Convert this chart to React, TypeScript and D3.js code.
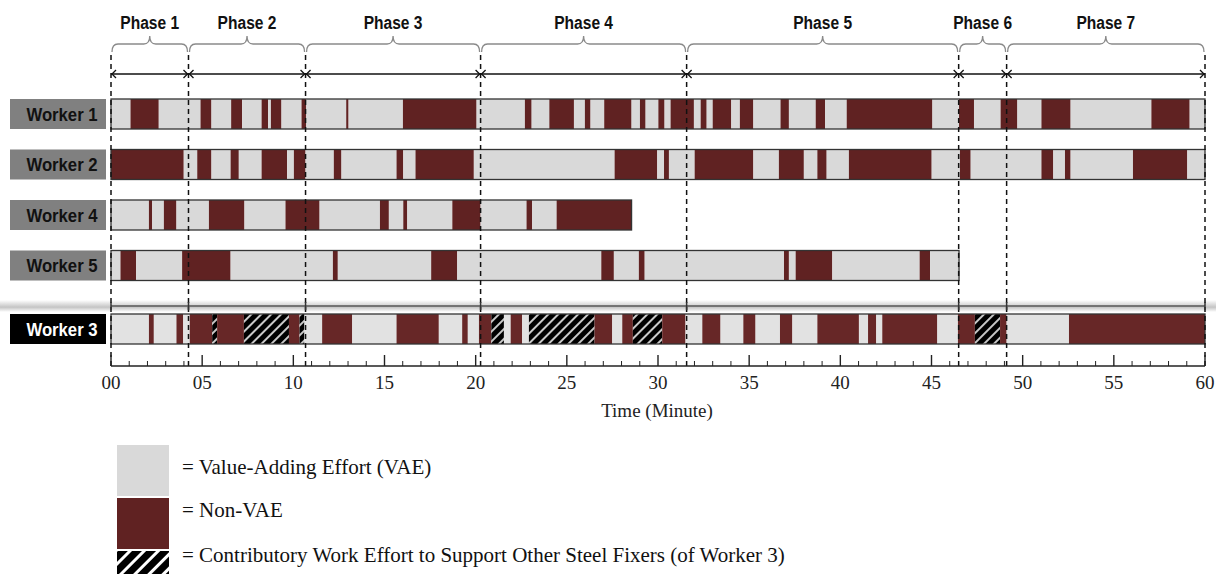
import React from "react";
import * as d3 from "d3";

type Kind = "V" | "N" | "H";
type Seg = [number, number, Kind];

const phaseNames = ["Phase 1", "Phase 2", "Phase 3", "Phase 4", "Phase 5", "Phase 6", "Phase 7"];
const phaseBounds = [0, 4.25, 10.67, 20.27, 31.57, 46.49, 49.12, 60];

const workerNames = ["Worker 1", "Worker 2", "Worker 4", "Worker 5", "Worker 3"];

const worker1: Seg[] = [
  [0, 1.07, "V"], [1.07, 2.62, "N"], [2.62, 4.91, "V"], [4.91, 5.51, "N"], [5.51, 6.59, "V"],
  [6.59, 7.19, "N"], [7.19, 8.26, "V"], [8.26, 8.62, "N"], [8.62, 8.77, "V"], [8.77, 9.35, "N"],
  [9.35, 10.45, "V"], [10.45, 10.71, "N"], [10.71, 12.9, "V"], [12.9, 13.03, "N"], [13.03, 16.01, "V"],
  [16.01, 20.05, "N"], [20.05, 22.7, "V"], [22.7, 23.07, "N"], [23.07, 24.04, "V"], [24.04, 25.39, "N"],
  [25.39, 25.99, "V"], [25.99, 26.3, "N"], [26.3, 27.05, "V"], [27.05, 28.55, "N"], [28.55, 29.01, "V"],
  [29.01, 29.32, "N"], [29.32, 30.02, "V"], [30.02, 30.36, "N"], [30.36, 30.69, "V"], [30.69, 31.97, "N"],
  [31.97, 32.34, "V"], [32.34, 32.67, "N"], [32.67, 33.0, "V"], [33.0, 34.02, "N"], [34.02, 34.49, "V"],
  [34.49, 35.23, "N"], [35.23, 36.72, "V"], [36.72, 37.18, "N"], [37.18, 38.65, "V"], [38.65, 39.16, "N"],
  [39.16, 40.35, "V"], [40.35, 45.05, "N"], [45.05, 46.51, "V"], [46.51, 47.33, "N"], [47.33, 48.79, "V"],
  [48.79, 49.71, "N"], [49.71, 51.03, "V"], [51.03, 52.63, "N"], [52.63, 57.06, "V"], [57.06, 59.16, "N"],
  [59.16, 60, "V"],
];

const worker2: Seg[] = [
  [0, 3.99, "N"], [3.99, 4.73, "V"], [4.73, 5.51, "N"], [5.51, 6.56, "V"], [6.56, 7.01, "N"],
  [7.01, 8.26, "V"], [8.26, 9.66, "N"], [9.66, 10.03, "V"], [10.03, 10.67, "N"], [10.67, 12.22, "V"],
  [12.22, 12.64, "N"], [12.64, 15.66, "V"], [15.66, 16.03, "N"], [16.03, 16.7, "V"], [16.7, 19.9, "N"],
  [19.9, 27.62, "V"], [27.62, 29.96, "N"], [29.96, 30.33, "V"], [30.33, 30.6, "N"], [30.6, 32.01, "V"],
  [32.01, 35.23, "N"], [35.23, 36.63, "V"], [36.63, 38.0, "N"], [38.0, 38.74, "V"], [38.74, 39.25, "N"],
  [39.25, 40.47, "V"], [40.47, 45.01, "N"], [45.01, 46.56, "V"], [46.56, 47.15, "N"], [47.15, 51.03, "V"],
  [51.03, 51.68, "N"], [51.68, 52.32, "V"], [52.32, 52.63, "N"], [52.63, 56.05, "V"], [56.05, 59.03, "N"],
  [59.03, 60, "V"],
];

const worker4: Seg[] = [
  [0, 2.08, "V"], [2.08, 2.26, "N"], [2.26, 2.9, "V"], [2.9, 3.59, "N"], [3.59, 5.37, "V"],
  [5.37, 7.32, "N"], [7.32, 9.57, "V"], [9.57, 11.44, "N"], [11.44, 14.75, "V"], [14.75, 15.24, "N"],
  [15.24, 16.03, "V"], [16.03, 16.25, "N"], [16.25, 18.72, "V"], [18.72, 20.27, "N"], [20.27, 22.79, "V"],
  [22.79, 23.1, "N"], [23.1, 24.44, "V"], [24.44, 28.55, "N"],
];

const worker5: Seg[] = [
  [0, 0.52, "V"], [0.52, 1.38, "N"], [1.38, 3.9, "V"], [3.9, 6.56, "N"], [6.56, 12.17, "V"],
  [12.17, 12.44, "N"], [12.44, 17.56, "V"], [17.56, 18.99, "N"], [18.99, 26.89, "V"], [26.89, 27.58, "N"],
  [27.58, 28.95, "V"], [28.95, 29.27, "N"], [29.27, 36.91, "V"], [36.91, 37.18, "N"], [37.18, 37.55, "V"],
  [37.55, 39.56, "N"], [39.56, 44.35, "V"], [44.35, 44.92, "N"], [44.92, 46.51, "V"],
];

const worker3: Seg[] = [
  [0, 2.08, "V"], [2.08, 2.35, "N"], [2.35, 3.59, "V"], [3.59, 3.96, "N"], [3.96, 4.32, "V"],
  [4.32, 5.55, "N"], [5.55, 5.82, "H"], [5.82, 7.29, "N"], [7.29, 9.76, "H"], [9.76, 10.34, "N"],
  [10.34, 10.61, "H"], [10.61, 11.58, "V"], [11.58, 13.23, "N"], [13.23, 15.66, "V"], [15.66, 17.98, "N"],
  [17.98, 19.26, "V"], [19.26, 19.57, "N"], [19.57, 20.18, "V"], [20.18, 20.86, "N"], [20.86, 21.55, "H"],
  [21.55, 21.92, "V"], [21.92, 22.55, "N"], [22.55, 22.92, "V"], [22.92, 26.52, "H"], [26.52, 27.49, "N"],
  [27.49, 28.04, "V"], [28.04, 28.62, "N"], [28.62, 30.23, "H"], [30.23, 31.51, "N"], [31.51, 32.43, "V"],
  [32.43, 33.43, "N"], [33.43, 34.68, "V"], [34.68, 35.35, "N"], [35.35, 36.69, "V"], [36.69, 37.37, "N"],
  [37.37, 38.74, "V"], [38.74, 41.02, "N"], [41.02, 41.52, "V"], [41.52, 41.97, "N"], [41.97, 42.3, "V"],
  [42.3, 45.32, "N"], [45.32, 46.45, "V"], [46.45, 47.38, "N"], [47.38, 48.76, "H"], [48.76, 49.12, "N"],
  [49.12, 52.54, "V"], [52.54, 60, "N"],
];

const workerSegments: Seg[][] = [worker1, worker2, worker4, worker5, worker3];

const legendLabels = [
  "= Value-Adding Effort (VAE)",
  "= Non-VAE",
  "= Contributory Work Effort to Support Other Steel Fixers (of Worker 3)",
];
const legendKinds: Kind[] = ["V", "N", "H"];

const axisTitle = "Time (Minute)";

const GRAY = "#d9d9d9";
const RED = "#602222";
const SANS = "'Liberation Sans', Arial, sans-serif";
const SERIF = "'Liberation Serif', 'Times New Roman', serif";

function fillFor(k: Kind, highlighted: boolean) {
  if (k === "V") return highlighted ? "#e2e2e2" : GRAY;
  if (k === "N") return highlighted ? "#672727" : RED;
  return "url(#hatch)";
}

export default function App() {
  const W = 1221;
  const H = 574;
  const x = d3.scaleLinear().domain([0, 60]).range([111, 1205]);
  const rowIdx = d3.scaleLinear().domain([0, 4]).range([99, 301]);
  const rowTop = (i: number) => rowIdx(i) + (i === 4 ? 13 : 0);
  const barH = 30;

  const axisY = 366;
  const minorTicks = d3.range(0, 61, 1);
  const fmt = d3.format("02d");

  const yTip = 36, yLine = 44, yEnd = 52;
  const braceR = 6;
  const bracePath = (a: number, b: number) => {
    const x0 = x(a) + 1, x1 = x(b) - 1;
    const xm = (x0 + x1) / 2;
    const p = d3.path();
    p.moveTo(x0, yEnd);
    p.quadraticCurveTo(x0, yLine, x0 + braceR, yLine);
    p.lineTo(xm - braceR, yLine);
    p.quadraticCurveTo(xm, yLine, xm, yTip);
    p.quadraticCurveTo(xm, yLine, xm + braceR, yLine);
    p.lineTo(x1 - braceR, yLine);
    p.quadraticCurveTo(x1, yLine, x1, yEnd);
    return p.toString();
  };

  const arrowY = 74;
  const legendX = 117, legendW = 52, legendTop = 445, legendStep = 53, legendH = 51;
  const legendTextY = [474, 517, 562];

  return (
    <svg width={W} height={H} style={{ position: "absolute", left: 0, top: 0, display: "block", background: "#fff" }}>
      <defs>
        <pattern id="hatch" patternUnits="userSpaceOnUse" width={7} height={7} patternTransform="rotate(45)">
          <rect width={7} height={7} fill="#000" />
          <line x1={1} y1={0} x2={1} y2={7} stroke="#c8c8c8" strokeWidth={2} />
        </pattern>
        <pattern id="hatchL" patternUnits="userSpaceOnUse" width={10} height={10} patternTransform="rotate(45)">
          <rect width={10} height={10} fill="#000" />
          <line x1={1.5} y1={0} x2={1.5} y2={10} stroke="#fff" strokeWidth={3} />
        </pattern>
        <linearGradient id="shadow" x1="0" y1="0" x2="0" y2="1">
          <stop offset="0%" stopColor="#ffffff" />
          <stop offset="60%" stopColor="#c4c4c4" />
          <stop offset="100%" stopColor="#ffffff" />
        </linearGradient>
      </defs>

      {/* phase labels and braces */}
      {phaseNames.map((name, i) => (
        <g key={name}>
          <text
            transform={`translate(${(x(phaseBounds[i]) + x(phaseBounds[i + 1])) / 2},29) scale(0.82,1)`}
            textAnchor="middle"
            fontFamily={SANS}
            fontWeight="bold"
            fontSize={19}
            fill="#111"
          >
            {name}
          </text>
          <path d={bracePath(phaseBounds[i], phaseBounds[i + 1])} fill="none" stroke="#8a8a8a" strokeWidth={1.3} />
        </g>
      ))}

      {/* arrow line */}
      <line x1={x(0)} x2={x(60)} y1={arrowY} y2={arrowY} stroke="#111" strokeWidth={1.6} />
      {phaseNames.map((name, i) => {
        const a = x(phaseBounds[i]);
        const b = x(phaseBounds[i + 1]);
        return (
          <g key={"ar" + name} fill="none" stroke="#111" strokeWidth={1.3}>
            <polyline points={`${a + 5},${arrowY - 4} ${a + 1},${arrowY} ${a + 5},${arrowY + 4}`} />
            <polyline points={`${b - 5},${arrowY - 4} ${b - 1},${arrowY} ${b - 5},${arrowY + 4}`} />
          </g>
        );
      })}

      {/* shadow band above Worker 3 */}
      <rect x={0} y={300} width={1216} height={12} fill="url(#shadow)" />
      <line x1={x(0)} x2={x(60)} y1={306} y2={306} stroke="#555" strokeWidth={1.3} />

      {/* worker rows */}
      {workerNames.map((name, i) => {
        const segs = workerSegments[i];
        const top = rowTop(i);
        const isW3 = i === 4;
        const end = segs[segs.length - 1][1];
        return (
          <g key={name}>
            <rect x={10} y={top} width={96} height={barH} fill={isW3 ? "#000" : "#808080"} />
            <text
              transform={`translate(62,${top + barH / 2 + 6.5}) scale(0.88,1)`}
              textAnchor="middle"
              fontFamily={SANS}
              fontWeight="bold"
              fontSize={19}
              fill={isW3 ? "#fff" : "#111"}
            >
              {name}
            </text>
            {segs.map((s, j) => (
              <rect
                key={j}
                x={x(s[0])}
                y={top}
                width={Math.max(0.5, x(s[1]) - x(s[0]))}
                height={barH}
                fill={fillFor(s[2], isW3)}
              />
            ))}
            <rect x={x(0)} y={top} width={x(end) - x(0)} height={barH} fill="none" stroke="#333" strokeWidth={1.3} />
          </g>
        );
      })}

      {/* dashed phase boundaries */}
      {phaseBounds.map((b, i) => (
        <g key={"d" + i}>
          <line x1={x(b)} x2={x(b)} y1={55} y2={370} stroke="#111" strokeWidth={1.5} strokeDasharray="5,4" />
          <line x1={x(b)} x2={x(b)} y1={302} y2={310} stroke="#333" strokeWidth={1.5} />
        </g>
      ))}

      {/* x axis */}
      <line x1={x(0)} x2={x(60)} y1={axisY} y2={axisY} stroke="#222" strokeWidth={1.4} />
      {minorTicks.map((t) => (
        <line
          key={"t" + t}
          x1={x(t)}
          x2={x(t)}
          y1={axisY}
          y2={axisY - (t % 5 === 0 ? 11 : 5)}
          stroke="#222"
          strokeWidth={t % 5 === 0 ? 1.4 : 1}
        />
      ))}
      {minorTicks.filter((t) => t % 5 === 0).map((t) => (
        <text key={"l" + t} x={x(t)} y={axisY + 23} textAnchor="middle" fontFamily={SERIF} fontSize={19} fill="#222">
          {fmt(t)}
        </text>
      ))}
      <text x={657} y={417} textAnchor="middle" fontFamily={SERIF} fontSize={19} fill="#222">
        {axisTitle}
      </text>

      {/* legend */}
      {legendLabels.map((lab, i) => (
        <g key={lab}>
          <rect
            x={legendX}
            y={legendTop + i * legendStep}
            width={legendW}
            height={legendH}
            fill={legendKinds[i] === "H" ? "url(#hatchL)" : fillFor(legendKinds[i], false)}
          />
          <text x={182} y={legendTextY[i]} fontFamily={SERIF} fontSize={21} fill="#111">
            {lab}
          </text>
        </g>
      ))}
    </svg>
  );
}
